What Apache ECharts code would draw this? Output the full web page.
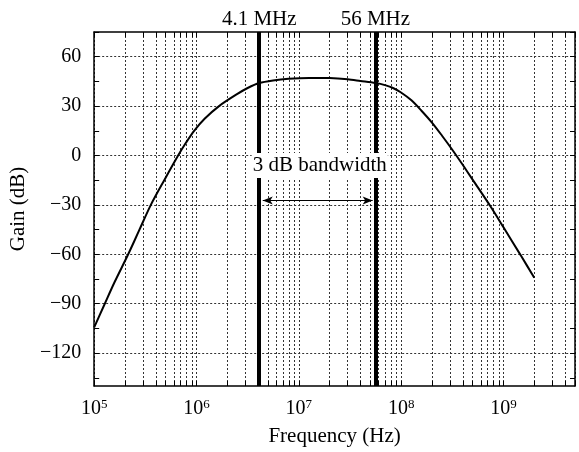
<!DOCTYPE html>
<html>
<head>
<meta charset="utf-8">
<script src="https://cdn.jsdelivr.net/npm/echarts@6/dist/echarts.min.js"></script>
<style>
  html, body { margin: 0; padding: 0; background: #fff; }
  #chart { width: 579px; height: 452px; }
</style>
</head>
<body>
<div id="chart"></div>
<script>
// gain curve
const freqHz = [1e5, 1.26e5, 1.58e5, 2.15e5, 2.75e5, 3.58e5, 4.84e5, 6.61e5, 7.94e5, 9.48e5,
  1.2e6, 1.66e6, 2.51e6, 3.16e6, 4.1e6, 5.6e6, 7.94e6, 1.26e7, 2.0e7, 3.0e7, 4.0e7, 5.6e7,
  7.08e7, 8.32e7, 9.89e7, 1.26e8, 1.58e8, 2.0e8, 2.51e8, 3.16e8, 3.98e8, 5.01e8, 7.48e8,
  1.0e9, 1.47e9, 2.0e9];
const gainDb = [-104.4, -90.5, -77, -60, -45.5, -30, -15, 0, 8, 15,
  22.3, 30, 37.4, 41.0, 44.0, 45.6, 46.6, 47.1, 47.0, 46.3, 45.3, 44.1,
  42.6, 41.0, 38.4, 33.5, 27.2, 20.0, 12.0, 3.5, -5.5, -14.8, -31,
  -43.6, -60.5, -74.2];

// axis ticks
const xLabelValues = [1e5, 1e6, 1e7, 1e8, 1e9];
const xTickValues = [];
for (let e = 5; e <= 9; e++) {
  for (let m = 1; m <= 9; m++) {
    const v = m * Math.pow(10, e);
    if (v <= 5e9) xTickValues.push(v);
  }
}
const yLabelValues = [-120, -90, -60, -30, 0, 30, 60];
const yTickValues = [-135, -120, -105, -90, -75, -60, -45, -30, -15, 0, 15, 30, 45, 60, 75];

// 3 dB points
const markerFreqs = [4.1e6, 5.6e7];
const markerLabels = ['4.1 MHz', '56 MHz'];
const bandLabel = '3 dB bandwidth';

const FONT = '"Liberation Serif", "DejaVu Serif", serif';
const xMin = 1e5, xMax = 5e9, yMin = -140, yMax = 75;

const chart = echarts.init(document.getElementById('chart'));

const gridLine = { show: true, lineStyle: { color: '#333', width: 1, type: [2, 2] } };
const tickIn = { show: true, inside: true, length: 5, lineStyle: { color: '#000', width: 1 } };
const axisLn = { show: true, onZero: false, lineStyle: { color: '#000', width: 1.5 } };

const option = {
  backgroundColor: '#fff',
  animation: false,
  grid: { left: 93, right: 4, top: 32, bottom: 65, containLabel: false },
  xAxis: [
    {
      type: 'log', logBase: 10, min: xMin, max: xMax, position: 'bottom',
      name: 'Frequency (Hz)', nameLocation: 'middle', nameGap: 40,
      nameTextStyle: { fontFamily: FONT, fontSize: 21, color: '#000' },
      axisLine: axisLn,
      axisTick: Object.assign({}, tickIn, { customValues: xTickValues }),
      splitLine: gridLine,
      axisLabel: {
        customValues: xLabelValues, margin: 12,
        formatter: v => '{b|10}{s|' + Math.round(Math.log10(v)) + '}',
        rich: {
          b: { fontFamily: FONT, fontSize: 20, color: '#000' },
          s: { fontFamily: FONT, fontSize: 13, color: '#000', verticalAlign: 'top', padding: [0, 0, 8, 0] }
        }
      }
    },
    {
      type: 'log', logBase: 10, min: xMin, max: xMax, position: 'top',
      axisLine: axisLn,
      axisTick: Object.assign({}, tickIn, { customValues: xTickValues }),
      axisLabel: { show: false }, splitLine: { show: false }
    }
  ],
  yAxis: [
    {
      type: 'value', min: yMin, max: yMax, position: 'left',
      name: 'Gain (dB)', nameLocation: 'middle', nameGap: 61,
      nameTextStyle: { fontFamily: FONT, fontSize: 21, color: '#000' },
      axisLine: axisLn,
      axisTick: Object.assign({}, tickIn, { customValues: yTickValues }),
      splitLine: { show: false },
      axisLabel: {
        customValues: yLabelValues, margin: 13,
        fontFamily: FONT, fontSize: 20, color: '#000',
        formatter: v => String(v).replace('-', '\u2212')
      }
    },
    {
      type: 'value', min: yMin, max: yMax, position: 'right',
      axisLine: axisLn,
      axisTick: Object.assign({}, tickIn, { customValues: yTickValues }),
      axisLabel: { show: false }, splitLine: { show: false }
    },
    {
      // carries the horizontal grid lines only
      type: 'value', min: yMin, max: yMax, position: 'left',
      axisLine: { show: false },
      axisTick: { show: false, customValues: yLabelValues },
      axisLabel: { show: false },
      splitLine: gridLine
    }
  ],
  series: [
    {
      type: 'line', xAxisIndex: 0, yAxisIndex: 0,
      data: freqHz.map((f, i) => [f, gainDb[i]]),
      smooth: 0.3, showSymbol: false, symbol: 'none',
      lineStyle: { color: '#000', width: 2 },
      z: 3,
      markLine: {
        silent: true, symbol: 'none',
        lineStyle: { color: '#000', width: 4, type: 'solid' },
        label: {
          position: 'end', distance: 2,
          fontFamily: FONT, fontSize: 21, color: '#000',
          formatter: p => markerLabels[p.dataIndex]
        },
        data: markerFreqs.map(f => ({ xAxis: f }))
      }
    },
    {
      // double arrow of the bandwidth
      type: 'line', xAxisIndex: 0, yAxisIndex: 0, data: [], z: 4,
      markLine: {
        silent: true, symbol: ['arrow', 'arrow'], symbolSize: [6, 10],
        lineStyle: { color: '#000', width: 1, type: 'solid' },
        label: { show: false },
        data: [[{ coord: [4.44e6, -27.3] }, { coord: [5.27e7, -27.3] }]]
      }
    },
    {
      type: 'line', xAxisIndex: 0, yAxisIndex: 0, data: [], z: 10,
      markPoint: {
        silent: true, symbol: 'circle', symbolSize: 0,
        label: {
          show: true, position: 'inside',
          fontFamily: FONT, fontSize: 21, color: '#000',
          backgroundColor: '#fff', padding: [2, 1, 2, 1],
          formatter: bandLabel
        },
        data: [{ coord: [1.6e7, -6.1] }]
      }
    }
  ]
};

chart.setOption(option);
</script>
</body>
</html>
